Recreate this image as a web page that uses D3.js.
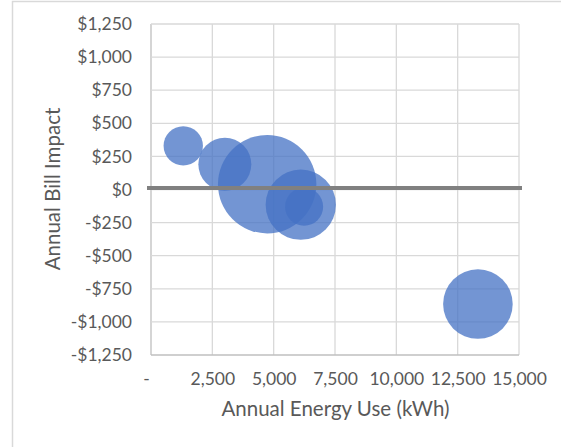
<!DOCTYPE html>
<html>
<head>
<meta charset="utf-8">
<script src="https://cdn.jsdelivr.net/npm/d3@7"></script>
<style>
  html, body { margin: 0; padding: 0; background: #fff; }
  svg { display: block; }
  text { font-family: Lato, "Open Sans", sans-serif; fill: #595959; }
</style>
</head>
<body>
<svg id="chart" width="561" height="447"></svg>
<script>
// Annual energy use (kWh) per customer group
const energyUse = [1315, 3010, 4735, 6105, 6240, 13325];
// Annual bill impact ($) per group
const billImpact = [330, 190, 40, -115, -130, -865];
// Relative group size, drawn as bubble area
const groupSize = [16, 29, 100, 51, 15, 50];

const xTicks = [0, 2500, 5000, 7500, 10000, 12500, 15000];
const yTicks = [-1250, -1000, -750, -500, -250, 0, 250, 500, 750, 1000, 1250];

const svg = d3.select("#chart");
const W = 561, H = 447;
const plot = { left: 151, right: 519, top: 24, bottom: 355 };

// outer chart frame
svg.append("rect")
  .attr("x", 12.5).attr("y", 1.5)
  .attr("width", W + 20).attr("height", H + 20)
  .attr("fill", "#fff").attr("stroke", "#d9d9d9").attr("stroke-width", 1.5);

const x = d3.scaleLinear().domain([0, 15000]).range([plot.left, plot.right]);
const y = d3.scaleLinear().domain([-1250, 1250]).range([plot.bottom, plot.top]);
const r = d3.scaleSqrt().domain([0, 100]).range([0, 49.2]);

const fmtNum = d3.format(",");
const fmtMoney = v => (v < 0 ? "-$" : "$") + fmtNum(Math.abs(v));

// gridlines
const grid = svg.append("g");
grid.selectAll("line.v").data(xTicks).join("line")
  .attr("x1", d => x(d)).attr("x2", d => x(d))
  .attr("y1", plot.top).attr("y2", plot.bottom)
  .attr("stroke", d => d === 0 ? "#bfbfbf" : "#d9d9d9").attr("stroke-width", 1.3);
grid.selectAll("line.h").data(yTicks).join("line")
  .attr("x1", plot.left).attr("x2", plot.right)
  .attr("y1", d => y(d)).attr("y2", d => y(d))
  .attr("stroke", d => d === -1250 ? "#bfbfbf" : "#d9d9d9").attr("stroke-width", 1.3);

// y axis labels
const yAxis = svg.append("g")
  .attr("transform", `translate(${plot.left},0)`)
  .call(d3.axisLeft(y).tickValues(yTicks).tickFormat(fmtMoney).tickSize(0).tickPadding(19));
yAxis.select(".domain").remove();
yAxis.selectAll("text").attr("font-size", 17.5).attr("fill", "#595959")
  .style("font-family", "Lato, sans-serif");

// x axis labels along the bottom
const xAxis = svg.append("g")
  .attr("transform", `translate(0,${plot.bottom})`)
  .call(d3.axisBottom(x).tickValues(xTicks)
    .tickFormat(d => d === 0 ? "-" : fmtNum(d)).tickSize(0).tickPadding(18));
xAxis.select(".domain").remove();
xAxis.selectAll("text").attr("font-size", 17.5).attr("fill", "#595959")
  .style("font-family", "Lato, sans-serif")
  .attr("dx", d => d === 0 ? -5 : 0);

// bubbles
svg.append("g").selectAll("circle")
  .data(energyUse.map((e, i) => ({ e, b: billImpact[i], s: groupSize[i] })))
  .join("circle")
  .attr("cx", d => x(d.e))
  .attr("cy", d => y(d.b))
  .attr("r", d => r(d.s))
  .attr("fill", "#4472c4")
  .attr("fill-opacity", 0.75);

// horizontal axis line at zero
svg.append("line")
  .attr("x1", x(0) - 4).attr("x2", x(15000) + 3)
  .attr("y1", y(0) - 1.5).attr("y2", y(0) - 1.5)
  .attr("stroke", "#808080").attr("stroke-width", 4);

// axis titles
svg.append("text")
  .attr("x", (plot.left + plot.right) / 2 + 0.5).attr("y", 416)
  .attr("text-anchor", "middle").attr("font-size", 20.5)
  .text("Annual Energy Use (kWh)");

svg.append("text")
  .attr("transform", `translate(60,189) rotate(-90)`)
  .attr("text-anchor", "middle").attr("font-size", 20.5)
  .text("Annual Bill Impact");
</script>
</body>
</html>
